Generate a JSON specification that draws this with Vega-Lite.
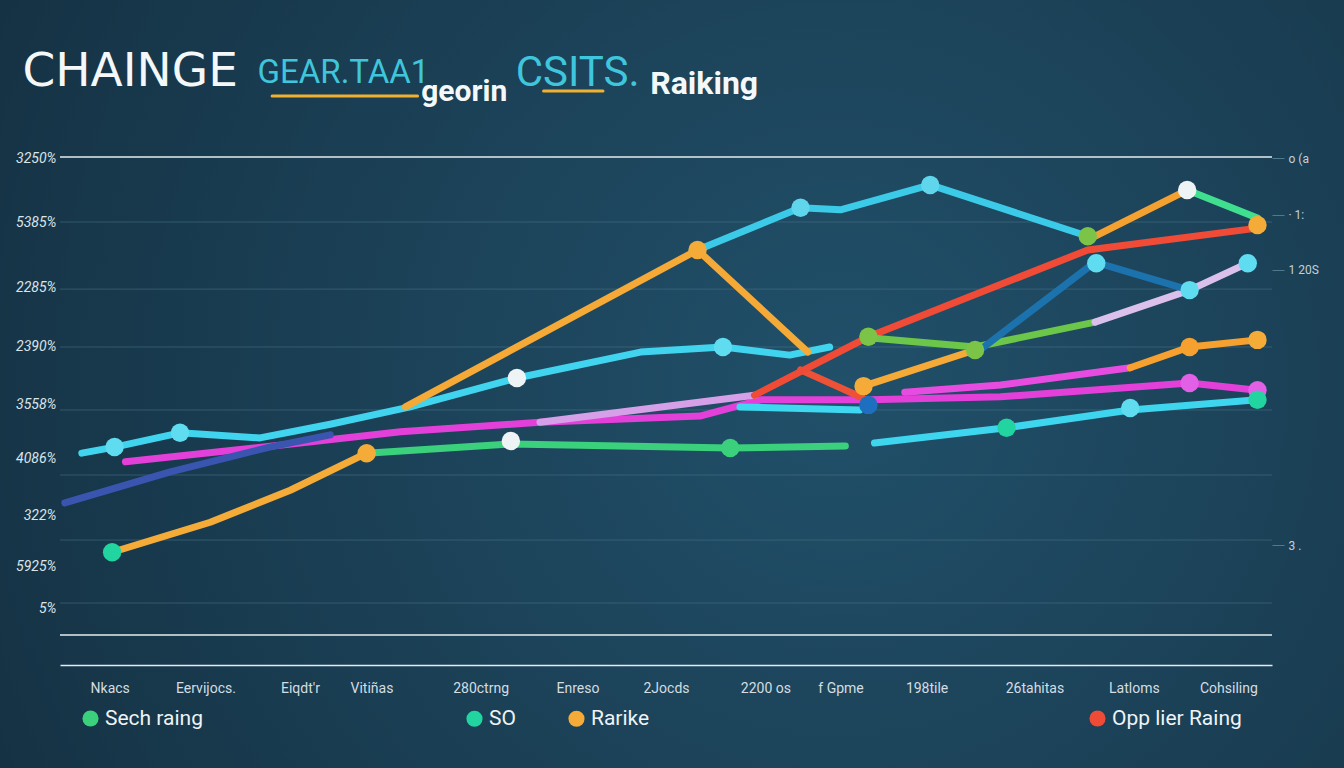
{
  "$schema": "https://vega.github.io/schema/vega-lite/v6.json",
  "width": 1212,
  "height": 508,
  "autosize": {"type": "none"},
  "padding": {"left": 60, "top": 157, "right": 72, "bottom": 103},
  "background": "#183a4c",
  "config": {"view": {"stroke": null}, "font": "Roboto"},
  "datasets": {
    "lines": [
      {"series": "Cyan A", "x": 1.8, "y": 41.7}, {"series": "Cyan A", "x": 4.5, "y": 42.9}, {"series": "Cyan A", "x": 9.9, "y": 45.7}, {"series": "Cyan A", "x": 16.5, "y": 44.7}, {"series": "Cyan A", "x": 22.3, "y": 47.4}, {"series": "Cyan A", "x": 28.9, "y": 50.8}, {"series": "Cyan A", "x": 37.7, "y": 56.5}, {"series": "Cyan A", "x": 47.9, "y": 61.6}, {"series": "Cyan A", "x": 54.7, "y": 62.6}, {"series": "Cyan A", "x": 60.2, "y": 61.0}, {"series": "Cyan A", "x": 63.5, "y": 62.6},
      {"series": "Cyan B", "x": 52.6, "y": 81.7}, {"series": "Cyan B", "x": 61.1, "y": 90.0}, {"series": "Cyan B", "x": 64.4, "y": 89.6}, {"series": "Cyan B", "x": 71.8, "y": 94.5}, {"series": "Cyan B", "x": 84.8, "y": 84.4},
      {"series": "Orange C", "x": 28.5, "y": 50.8}, {"series": "Orange C", "x": 52.6, "y": 81.7}, {"series": "Orange C", "x": 61.7, "y": 61.6},
      {"series": "Rarike", "x": 4.3, "y": 22.2}, {"series": "Rarike", "x": 12.4, "y": 28.1}, {"series": "Rarike", "x": 19.0, "y": 34.4}, {"series": "Rarike", "x": 25.3, "y": 41.7},
      {"series": "Sech raing", "x": 25.3, "y": 41.7}, {"series": "Sech raing", "x": 37.2, "y": 43.5}, {"series": "Sech raing", "x": 55.3, "y": 42.7}, {"series": "Sech raing", "x": 64.8, "y": 43.1},
      {"series": "Cyan E", "x": 67.2, "y": 43.7}, {"series": "Cyan E", "x": 78.1, "y": 46.7}, {"series": "Cyan E", "x": 88.3, "y": 50.2}, {"series": "Cyan E", "x": 98.8, "y": 52.2},
      {"series": "Magenta", "x": 5.4, "y": 40.0}, {"series": "Magenta", "x": 19.8, "y": 43.7}, {"series": "Magenta", "x": 28.1, "y": 45.9}, {"series": "Magenta", "x": 39.6, "y": 47.8}, {"series": "Magenta", "x": 52.8, "y": 49.0}, {"series": "Magenta", "x": 57.8, "y": 52.2}, {"series": "Magenta", "x": 66.8, "y": 52.2}, {"series": "Magenta", "x": 77.6, "y": 52.8}, {"series": "Magenta", "x": 93.2, "y": 55.5}, {"series": "Magenta", "x": 98.8, "y": 54.1},
      {"series": "Lilac", "x": 39.6, "y": 47.8}, {"series": "Lilac", "x": 57.3, "y": 53.1},
      {"series": "Opp lier Raing", "x": 57.3, "y": 53.1}, {"series": "Opp lier Raing", "x": 66.7, "y": 64.6}, {"series": "Opp lier Raing", "x": 84.8, "y": 81.7}, {"series": "Opp lier Raing", "x": 98.8, "y": 86.0},
      {"series": "Red2", "x": 61.1, "y": 58.1}, {"series": "Red2", "x": 63.9, "y": 55.1}, {"series": "Red2", "x": 66.2, "y": 52.6},
      {"series": "Orange E", "x": 66.3, "y": 54.9}, {"series": "Orange E", "x": 75.5, "y": 62.0},
      {"series": "Lime", "x": 66.7, "y": 64.4}, {"series": "Lime", "x": 75.5, "y": 62.6}, {"series": "Lime", "x": 85.4, "y": 67.5},
      {"series": "Lilac2", "x": 85.4, "y": 67.5}, {"series": "Lilac2", "x": 93.2, "y": 73.8}, {"series": "Lilac2", "x": 98.0, "y": 79.1},
      {"series": "Blue L", "x": 0.4, "y": 31.9}, {"series": "Blue L", "x": 9.1, "y": 38.0}, {"series": "Blue L", "x": 17.3, "y": 42.9}, {"series": "Blue L", "x": 22.3, "y": 45.3},
      {"series": "Blue R", "x": 75.9, "y": 62.0}, {"series": "Blue R", "x": 85.4, "y": 79.3}, {"series": "Blue R", "x": 93.2, "y": 73.8},
      {"series": "Orange F", "x": 84.8, "y": 83.7}, {"series": "Orange F", "x": 93.0, "y": 93.5},
      {"series": "Green F", "x": 93.0, "y": 93.5}, {"series": "Green F", "x": 98.8, "y": 88.0},
      {"series": "Magenta2", "x": 69.7, "y": 53.7}, {"series": "Magenta2", "x": 77.6, "y": 55.1}, {"series": "Magenta2", "x": 88.3, "y": 58.5},
      {"series": "Orange G", "x": 88.3, "y": 58.5}, {"series": "Orange G", "x": 93.2, "y": 62.6}, {"series": "Orange G", "x": 98.8, "y": 64.0},
      {"series": "Cyan D", "x": 56.1, "y": 50.8}, {"series": "Cyan D", "x": 66.0, "y": 50.2}
    ],
    "markers": [
      {"series": "Cyan A", "x": 4.5, "y": 42.9}, {"series": "Cyan A", "x": 9.9, "y": 45.7}, {"series": "SO", "x": 4.3, "y": 22.2}, {"series": "Rarike", "x": 25.3, "y": 41.7},
      {"series": "Highlight", "x": 37.7, "y": 56.5}, {"series": "Highlight", "x": 37.2, "y": 44.1}, {"series": "Rarike", "x": 52.6, "y": 81.7}, {"series": "Cyan A", "x": 54.7, "y": 62.6},
      {"series": "Cyan B", "x": 61.1, "y": 90.0}, {"series": "Cyan B", "x": 71.8, "y": 94.5}, {"series": "Sech raing", "x": 55.3, "y": 42.7}, {"series": "Lime", "x": 66.7, "y": 64.6},
      {"series": "Rarike", "x": 66.3, "y": 54.9}, {"series": "Blue R", "x": 66.7, "y": 51.2}, {"series": "Lime", "x": 75.5, "y": 62.0}, {"series": "SO", "x": 78.1, "y": 46.7},
      {"series": "Lime", "x": 84.8, "y": 84.4}, {"series": "Cyan A", "x": 85.5, "y": 79.1}, {"series": "Cyan A", "x": 88.3, "y": 50.6}, {"series": "Highlight", "x": 93.0, "y": 93.5},
      {"series": "Cyan A", "x": 93.2, "y": 73.8}, {"series": "Orange G", "x": 93.2, "y": 62.6}, {"series": "Magenta", "x": 93.2, "y": 55.5}, {"series": "Cyan A", "x": 98.0, "y": 79.1},
      {"series": "Rarike", "x": 98.8, "y": 86.6}, {"series": "Rarike", "x": 98.8, "y": 64.0}, {"series": "Magenta", "x": 98.8, "y": 54.1}, {"series": "SO", "x": 98.8, "y": 52.2}
    ],
    "refs": [{"y": 100}, {"y": 5.9}],
    "grid": [{"y": 87.2}, {"y": 74.0}, {"y": 62.6}, {"y": 50.2}, {"y": 37.4}, {"y": 24.6}, {"y": 12.2}]
  },
  "layer": [
    {
      "data": {"values": [{}]},
      "mark": {"type": "rect", "fill": {"gradient": "radial", "x1": 0.62, "y1": 0.5, "r1": 0, "x2": 0.62, "y2": 0.5, "r2": 0.75, "stops": [{"offset": 0, "color": "#21506a"}, {"offset": 1, "color": "#142f40"}]}},
      "encoding": {
        "x": {"datum": -5, "type": "quantitative", "scale": {"domain": [0, 100], "nice": false, "zero": false}, "axis": null},
        "x2": {"datum": 107},
        "y": {"datum": -21, "type": "quantitative", "scale": {"domain": [0, 100], "nice": false, "zero": false}, "axis": null},
        "y2": {"datum": 131}
      }
    },
    {
      "data": {"name": "grid"},
      "mark": {"type": "rule", "stroke": "#4f7a8e", "strokeOpacity": 0.5, "strokeWidth": 1},
      "encoding": {"y": {"field": "y", "type": "quantitative", "axis": null}}
    },
    {
      "data": {"name": "refs"},
      "mark": {"type": "rule", "stroke": "#e4ecef", "strokeWidth": 1.5},
      "encoding": {"y": {"field": "y", "type": "quantitative", "axis": null}}
    },
    {
      "data": {"name": "lines"},
      "transform": [{"filter": {"field": "series", "oneOf": ["Blue L", "Sech raing", "Rarike", "Magenta", "Lilac", "Cyan A", "Orange C", "Cyan B", "Cyan D", "Red2"]}}],
      "mark": {"type": "line", "strokeWidth": 7, "strokeCap": "round", "strokeJoin": "round"},
      "encoding": {
        "x": {"field": "x", "type": "quantitative", "scale": {"domain": [0, 100], "nice": false, "zero": false},
          "axis": {"title": null, "zindex": 1, "grid": false, "ticks": false, "domain": true, "domainColor": "#e4ecef", "domainWidth": 1.5, "labelPadding": 16, "labelFontSize": 14, "labelColor": "#d4dde1", "labelFont": "Roboto",
            "values": [4.1, 12.0, 19.8, 25.7, 34.7, 42.7, 50.0, 58.2, 64.4, 71.5, 80.4, 88.6, 96.4],
            "labelExpr": "datum.value == 4.1 ? 'Nkacs' : datum.value == 12 ? 'Eervijocs.' : datum.value == 19.8 ? 'Eiqdt\\'r' : datum.value == 25.7 ? 'Vitiñas' : datum.value == 34.7 ? '280ctrng' : datum.value == 42.7 ? 'Enreso' : datum.value == 50 ? '2Jocds' : datum.value == 58.2 ? '2200 os' : datum.value == 64.4 ? 'f Gpme' : datum.value == 71.5 ? '198tile' : datum.value == 80.4 ? '26tahitas' : datum.value == 88.6 ? 'Latloms' : 'Cohsiling'"}},
        "y": {"field": "y", "type": "quantitative", "scale": {"domain": [0, 100], "nice": false, "zero": false},
          "axis": {"title": null, "zindex": 1, "orient": "left", "grid": false, "domain": false, "ticks": false, "labelPadding": 4, "labelFontSize": 14, "labelFontStyle": "italic", "labelColor": "#dbe4e8", "labelFont": "Roboto",
            "values": [99.8, 87.2, 74.4, 62.6, 51.2, 40.7, 29.5, 19.3, 11.2],
            "labelExpr": "datum.value == 99.8 ? '3250%' : datum.value == 87.2 ? '5385%' : datum.value == 74.4 ? '2285%' : datum.value == 62.6 ? '2390%' : datum.value == 51.2 ? '3558%' : datum.value == 40.7 ? '4086%' : datum.value == 29.5 ? '322%' : datum.value == 19.3 ? '5925%' : '5%'"}},
        "color": {"field": "series", "type": "nominal",
          "scale": {"domain": ["Sech raing", "SO", "Rarike", "Opp lier Raing", "Cyan A", "Cyan B", "Cyan D", "Cyan E", "Orange C", "Orange E", "Orange F", "Orange G", "Magenta", "Magenta2", "Lilac", "Lilac2", "Red2", "Lime", "Green F", "Blue L", "Blue R", "Highlight"],
            "range": ["#3ad07c", "#22d4a0", "#f5ab38", "#ef4b37", "#40d4ee", "#3bcbe8", "#3fd8f0", "#3ed6ee", "#f5a936", "#f5a936", "#f5a12f", "#f5a02f", "#e33fd9", "#e64ce0", "#d5a0e8", "#dcc0ec", "#ee5236", "#6cc64a", "#40df8f", "#3a55b0", "#1c72ad", "#eef4f5"]},
          "legend": {"values": ["Sech raing"], "title": null, "orient": "none", "legendX": 20, "legendY": 551, "direction": "horizontal", "symbolType": "circle", "symbolSize": 260, "symbolFillColor": "#3ad07c", "symbolStrokeWidth": 0, "labelFontSize": 21, "labelColor": "#eef3f5", "labelFont": "Roboto", "labelOffset": 4, "padding": 0}}
      }
    },
    {
      "data": {"name": "lines"},
      "transform": [{"filter": {"field": "series", "oneOf": ["Opp lier Raing", "Orange E", "Lime", "Lilac2", "Blue R", "Orange F", "Green F", "Magenta2", "Orange G", "Cyan E"]}}],
      "mark": {"type": "line", "strokeWidth": 7, "strokeCap": "round", "strokeJoin": "round"},
      "encoding": {
        "x": {"field": "x", "type": "quantitative", "axis": null},
        "y": {"field": "y", "type": "quantitative",
          "axis": {"title": null, "zindex": 1, "orient": "right", "grid": false, "domain": false, "ticks": true, "tickColor": "#4f7a8e", "tickSize": 12, "labelPadding": 4, "labelFontSize": 12, "labelColor": "#c3d0d6", "labelFont": "Roboto",
            "values": [99.8, 88.6, 77.8, 23.6],
            "labelExpr": "datum.value == 99.8 ? 'o (a' : datum.value == 88.6 ? '·  1:' : datum.value == 77.8 ? '1 20S' : '3 .'"}},
        "color": {"field": "series", "type": "nominal",
          "scale": {"domain": ["Sech raing", "SO", "Rarike", "Opp lier Raing", "Cyan A", "Cyan B", "Cyan D", "Cyan E", "Orange C", "Orange E", "Orange F", "Orange G", "Magenta", "Magenta2", "Lilac", "Lilac2", "Red2", "Lime", "Green F", "Blue L", "Blue R", "Highlight"],
            "range": ["#3ad07c", "#22d4a0", "#f5ab38", "#ef4b37", "#40d4ee", "#3bcbe8", "#3fd8f0", "#3ed6ee", "#f5a936", "#f5a936", "#f5a12f", "#f5a02f", "#e33fd9", "#e64ce0", "#d5a0e8", "#dcc0ec", "#ee5236", "#6cc64a", "#40df8f", "#3a55b0", "#1c72ad", "#eef4f5"]},
          "legend": {"values": ["Opp lier Raing"], "title": null, "orient": "none", "legendX": 1027, "legendY": 551, "direction": "horizontal", "symbolType": "circle", "symbolSize": 260, "symbolFillColor": "#ef4b37", "symbolStrokeWidth": 0, "labelFontSize": 21, "labelColor": "#eef3f5", "labelFont": "Roboto", "labelOffset": 4, "padding": 0}}
      }
    },
    {
      "data": {"name": "markers"},
      "mark": {"type": "point", "filled": true, "opacity": 1, "size": 340},
      "encoding": {
        "x": {"field": "x", "type": "quantitative", "axis": null},
        "y": {"field": "y", "type": "quantitative", "axis": null},
        "color": {"field": "series", "type": "nominal",
          "scale": {"domain": ["Sech raing", "SO", "Rarike", "Opp lier Raing", "Cyan A", "Cyan B", "Cyan D", "Cyan E", "Orange C", "Orange E", "Orange F", "Orange G", "Magenta", "Magenta2", "Lilac", "Lilac2", "Red2", "Lime", "Green F", "Blue L", "Blue R", "Highlight"],
            "range": ["#3ad07c", "#22d4a0", "#f5ab38", "#ef4b37", "#5fdcef", "#5fd6ec", "#3fd8f0", "#3ed6ee", "#f5b54a", "#f5b54a", "#f5a12f", "#f5a02f", "#e260e6", "#e64ce0", "#d5a0e8", "#dcc0ec", "#ee5236", "#7cc448", "#40df8f", "#3a55b0", "#1f6fc0", "#eef4f5"]},
          "legend": {"values": ["SO", "Rarike"], "title": null, "orient": "none", "legendX": 404, "legendY": 551, "direction": "horizontal", "symbolType": "circle", "symbolSize": 260, "symbolStrokeWidth": 0, "columnPadding": 50, "labelFontSize": 21, "labelColor": "#eef3f5", "labelFont": "Roboto", "labelOffset": 4, "padding": 0}}
      }
    },
    {
      "data": {"values": [{}]},
      "mark": {"type": "text", "text": "CHAINGE", "font": "DejaVu Sans", "fontSize": 47, "fontWeight": "normal", "color": "#f4f8f9", "align": "left", "baseline": "middle"},
      "encoding": {"x": {"datum": -3.1, "type": "quantitative", "axis": null}, "y": {"datum": 116.7, "type": "quantitative", "axis": null}}
    },
    {
      "data": {"values": [{}]},
      "mark": {"type": "text", "text": "GEAR.TAA1", "font": "Roboto", "fontSize": 33, "color": "#3fc6dc", "align": "left", "baseline": "middle"},
      "encoding": {"x": {"datum": 16.3, "type": "quantitative", "axis": null}, "y": {"datum": 116.5, "type": "quantitative", "axis": null}}
    },
    {
      "data": {"values": [{}]},
      "mark": {"type": "text", "text": "georin", "font": "Roboto", "fontSize": 30, "fontWeight": "bold", "color": "#f4f8f9", "align": "left", "baseline": "middle"},
      "encoding": {"x": {"datum": 29.8, "type": "quantitative", "axis": null}, "y": {"datum": 112.8, "type": "quantitative", "axis": null}}
    },
    {
      "data": {"values": [{}]},
      "mark": {"type": "text", "text": "CSITS.", "font": "Roboto", "fontSize": 42, "color": "#3fc6dc", "align": "left", "baseline": "middle"},
      "encoding": {"x": {"datum": 37.6, "type": "quantitative", "axis": null}, "y": {"datum": 116.5, "type": "quantitative", "axis": null}}
    },
    {
      "data": {"values": [{}]},
      "mark": {"type": "text", "text": "Raiking", "font": "Roboto", "fontSize": 32, "fontWeight": "bold", "color": "#f4f8f9", "align": "left", "baseline": "middle"},
      "encoding": {"x": {"datum": 48.7, "type": "quantitative", "axis": null}, "y": {"datum": 114.4, "type": "quantitative", "axis": null}}
    },
    {
      "data": {"values": [{}]},
      "mark": {"type": "rule", "stroke": "#f0b030", "strokeWidth": 3, "strokeCap": "round"},
      "encoding": {"x": {"datum": 17.5, "type": "quantitative", "axis": null}, "x2": {"datum": 29.5}, "y": {"datum": 112.0, "type": "quantitative", "axis": null}}
    },
    {
      "data": {"values": [{}]},
      "mark": {"type": "rule", "stroke": "#f0b030", "strokeWidth": 3, "strokeCap": "round"},
      "encoding": {"x": {"datum": 39.9, "type": "quantitative", "axis": null}, "x2": {"datum": 44.8}, "y": {"datum": 113.0, "type": "quantitative", "axis": null}}
    }
  ],
  "resolve": {"scale": {"color": "independent"}, "axis": {"x": "independent", "y": "independent"}}
}
